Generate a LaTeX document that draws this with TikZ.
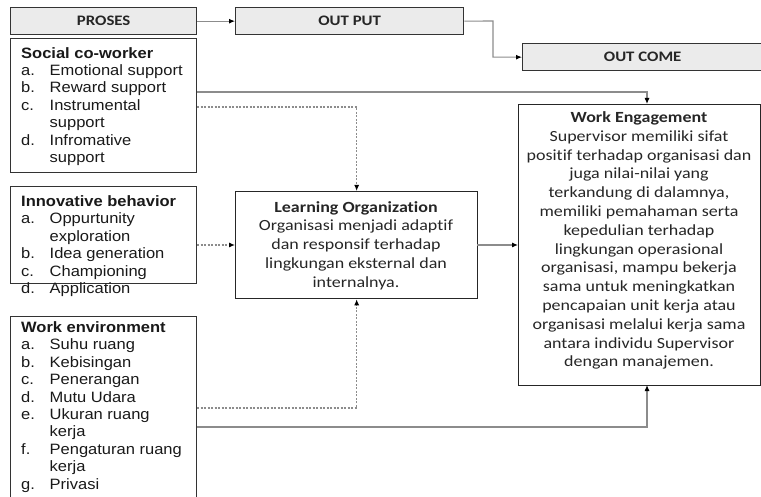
\documentclass[tikz,border=0pt]{standalone}
\usepackage{fontspec}
\setmainfont{Liberation Sans}[FakeStretch=1.1]
\newfontfamily\calfont{Carlito}[FakeStretch=1.16, Ligatures=NoCommon]
\usetikzlibrary{arrows.meta}
\tikzset{
  hdr/.style={draw=black!80, line width=1.3pt, fill=black!8, minimum height=27pt, inner sep=0pt,
    font=\calfont\bfseries\fontsize{14.5}{16}\selectfont, text=black!85},
  lbox/.style={draw=black!80, line width=1.3pt, anchor=north west, minimum width=186pt, inner sep=0pt},
  ltext/.style={anchor=north west, align=left, inner sep=0pt, text=black!90,
    font=\fontsize{15}{17.4}\selectfont},
  cbox/.style={draw=black!85, line width=1.3pt, anchor=north west, inner sep=0pt},
  ctext/.style={align=center, inner sep=0pt, text=black!85,
    font=\calfont\fontsize{15.5}{18.8}\selectfont},
  conn/.style={draw=black!45, line width=1.1pt, -{Latex[length=6pt,width=5pt,color=black]}},
  dconn/.style={conn, dash pattern=on 2pt off 1.5pt},
}
\newcommand{\itm}[2]{\makebox[28.5pt][l]{#1}#2}
\newcommand{\cnt}[1]{\hspace*{28.5pt}#1}
\begin{document}
\begin{tikzpicture}[x=1pt,y=-1pt]
\useasboundingbox (0,0) rectangle (761,497);
\clip (0,0) rectangle (761,497);
% header boxes
\node[hdr, minimum width=186pt, anchor=north west] (proses) at (10,7) {PROSES};
\node[hdr, minimum width=228pt, anchor=north west] (output) at (235,7) {OUT PUT};
\node[hdr, minimum width=240pt, minimum height=27pt, anchor=north west] (outcome) at (522,43) {OUT COME};
% left boxes
\node[lbox, minimum height=134pt] (soc) at (10,38) {};
\node[ltext] (soct) at (21,47) {\textbf{Social co-worker}\\
\itm{a.}{Emotional support}\\
\itm{b.}{Reward support}\\
\itm{c.}{Instrumental}\\
\cnt{support}\\
\itm{d.}{Infromative}\\
\cnt{support}};
\node[lbox, minimum height=97pt] (inn) at (10,186) {};
\node[ltext] (innt) at (21,195.5) {\textbf{Innovative behavior}\\
\itm{a.}{Oppurtunity}\\
\cnt{exploration}\\
\itm{b.}{Idea generation}\\
\itm{c.}{Championing}\\
\itm{d.}{Application}};
\node[lbox, minimum height=200pt] (env) at (10,316) {};
\node[ltext] (envt) at (21,321.5) {\textbf{Work environment}\\
\itm{a.}{Suhu ruang}\\
\itm{b.}{Kebisingan}\\
\itm{c.}{Penerangan}\\
\itm{d.}{Mutu Udara}\\
\itm{e.}{Ukuran ruang}\\
\cnt{kerja}\\
\itm{f.}{Pengaturan ruang}\\
\cnt{kerja}\\
\itm{g.}{Privasi}};
% learning organization
\node[cbox, minimum width=242pt, minimum height=107pt] (lo) at (235,191) {};
\node[ctext, anchor=north] (lot) at (356,201) {\textbf{Learning Organization}\\
Organisasi menjadi adaptif\\
dan responsif terhadap\\
lingkungan eksternal dan\\
internalnya.};
% work engagement
\node[cbox, minimum width=242pt, minimum height=281pt] (we) at (518,104) {};
\node[ctext, anchor=north] (wet) at (639,111.5) {\textbf{Work Engagement}\\
Supervisor memiliki sifat\\
positif terhadap organisasi dan\\
juga nilai-nilai yang\\
terkandung di dalamnya,\\
memiliki pemahaman serta\\
kepedulian terhadap\\
lingkungan operasional\\
organisasi, mampu bekerja\\
sama untuk meningkatkan\\
pencapaian unit kerja atau\\
organisasi melalui kerja sama\\
antara individu Supervisor\\
dengan manajemen.};
% coordinates
\coordinate (s1) at (197,92);
\coordinate (s2) at (197,107);
\coordinate (i1) at (197,245);
\coordinate (e1) at (197,408);
\coordinate (e2) at (197,427);
\coordinate (weT) at (647,104);
\coordinate (weB) at (647,385);
\coordinate (loE) at (477,245);
\coordinate (weW) at (518,245);
\coordinate (loW) at (235,245);
\coordinate (oc1) at (493,21);
% connectors
\draw[conn] (proses.east) -- (output.west);
\draw[conn] (output.east) -- (oc1) |- (outcome.west);
\draw[conn] (s1) -| (weT);
\draw[dconn] (s2) -| (lo.north);
\draw[dconn] (i1) -- (loW);
\draw[conn] (loE) -- (weW);
\draw[dconn] (e1) -| (lo.south);
\draw[conn] (e2) -| (weB);
\end{tikzpicture}
\end{document}
